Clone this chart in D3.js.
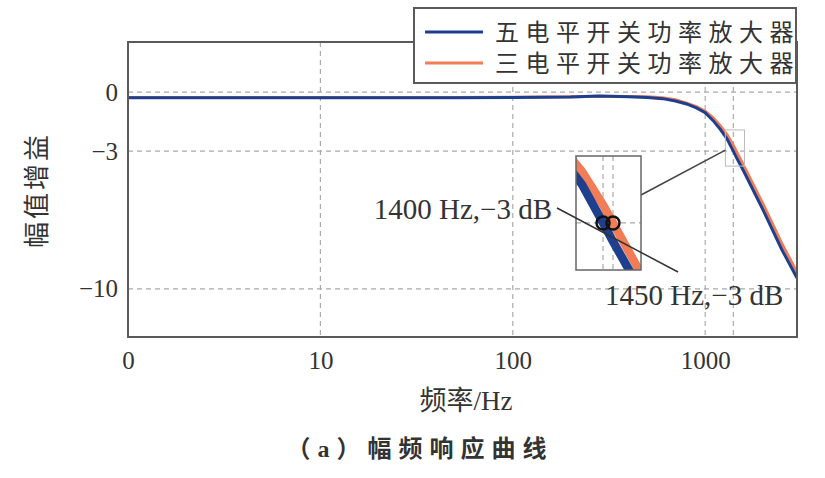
<!DOCTYPE html>
<meta charset="utf-8">
<style>
body { margin: 0; background: #fff; }
svg text { font-family: "Liberation Serif", "Noto Sans CJK SC", serif; fill: #333; }
.grid line { stroke: #aaa; stroke-width: 1.2; stroke-dasharray: 5,4; }
</style>
<svg id="chart" width="825" height="478"></svg>
<script src="https://d3js.org/d3.v7.min.js"></script>
<script>

var freq = [1, 2, 5, 10, 20, 50, 100, 200, 280, 400, 500, 600, 700, 800, 900, 1000, 1100, 1200, 1300, 1400, 1450, 1600, 2000, 2500, 3000];
var fiveLevel = [-0.28, -0.28, -0.28, -0.28, -0.28, -0.28, -0.27, -0.25, -0.19, -0.24, -0.27, -0.33, -0.45, -0.6, -0.8, -1.05, -1.45, -1.9, -2.38, -3.0, -3.3, -4.1, -6.0, -8.0, -9.45];
var threeLevel = [-0.27, -0.27, -0.27, -0.27, -0.27, -0.27, -0.26, -0.23, -0.21, -0.22, -0.24, -0.29, -0.38, -0.56, -0.74, -0.97, -1.3, -1.72, -2.17, -2.71, -3.0, -3.82, -5.7, -7.69, -9.17];

var seriesNames = ["五电平开关功率放大器", "三电平开关功率放大器"];
var seriesColors = ["#1d3f8e", "#f27c56"];

var xTicks = [1, 10, 100, 1000];
var xTickLabels = ["0", "10", "100", "1000"];
var yTicks = [0, -3, -10];
var xGrid = [10, 100, 1000, 1400];

// -3 dB points and the zoomed region
var cutoff = [[1400, -3], [1450, -3]];
var zoomX = [1273, 1600], zoomY = [-3.76, -1.92];

var series = [fiveLevel, threeLevel].map(function(vals) {
  return freq.map(function(f, i) { return [f, vals[i]]; });
});

var svg = d3.select("#chart");

var x = d3.scaleLog().domain([1, 3000]).range([128, 797]);
var y = d3.scaleLinear().domain([-12.45, 2.55]).range([337, 42]);

svg.append("defs").append("clipPath").attr("id", "plotclip")
  .append("rect").attr("x", 128).attr("y", 42).attr("width", 669).attr("height", 295);

// grid
var grid = svg.append("g").attr("class", "grid");
grid.selectAll(".gx").data(xGrid).enter().append("line")
    .attr("x1", function(d) { return x(d); }).attr("x2", function(d) { return x(d); })
    .attr("y1", 42).attr("y2", 337);
grid.selectAll(".gy").data(yTicks).enter().append("line")
    .attr("x1", 128).attr("x2", 797)
    .attr("y1", function(d) { return y(d); }).attr("y2", function(d) { return y(d); });

var line = d3.line()
    .x(function(d) { return x(d[0]); })
    .y(function(d) { return y(d[1]); });

// orange first, blue on top
svg.append("g").attr("clip-path", "url(#plotclip)")
  .selectAll("path").data([series[1], series[0]]).enter().append("path")
    .attr("d", line)
    .attr("fill", "none")
    .attr("stroke", function(d, i) { return i == 0 ? seriesColors[1] : seriesColors[0]; })
    .attr("stroke-width", 3);

svg.append("rect")
    .attr("x", 128).attr("y", 42).attr("width", 669).attr("height", 295)
    .attr("fill", "none").attr("stroke", "#5a5a5a").attr("stroke-width", 2);

// axes
var xAxis = svg.append("g")
    .attr("transform", "translate(0,337)")
    .call(d3.axisBottom(x).tickValues(xTicks).tickSize(0).tickPadding(14)
      .tickFormat(function(d, i) { return xTickLabels[i]; }));
xAxis.select(".domain").remove();
xAxis.selectAll("text").attr("font-size", 25).attr("font-family", null).attr("fill", "#333");

var yAxis = svg.append("g")
    .attr("transform", "translate(128,0)")
    .call(d3.axisLeft(y).tickValues(yTicks).tickSize(0).tickPadding(10)
      .tickFormat(function(d) { return d < 0 ? "\u2212" + (-d) : d; }));
yAxis.select(".domain").remove();
yAxis.selectAll("text").attr("font-size", 25).attr("font-family", null).attr("fill", "#333");

svg.append("text")
    .attr("x", 466).attr("y", 410)
    .attr("text-anchor", "middle")
    .attr("font-size", 27)
    .text("频率/Hz");

svg.append("text")
    .attr("transform", "translate(46,190) rotate(-90)")
    .attr("text-anchor", "middle")
    .attr("font-size", 26)
    .attr("letter-spacing", 3)
    .text("幅值增益");

svg.append("text")
    .attr("x", 420).attr("y", 457)
    .attr("text-anchor", "middle")
    .attr("font-size", 24)
    .attr("font-weight", "bold")
    .attr("letter-spacing", 7)
    .attr("fill", "#444")
    .text("（a）幅频响应曲线");

// small zoom box on main curve
svg.append("rect")
    .attr("x", x(zoomX[0])).attr("y", y(zoomY[1]))
    .attr("width", x(zoomX[1]) - x(zoomX[0]))
    .attr("height", y(zoomY[0]) - y(zoomY[1]))
    .attr("fill", "none").attr("stroke", "#bbb").attr("stroke-width", 1);

// inset
var xi = d3.scaleLog().domain(zoomX).range([576, 641]);
var yi = d3.scaleLinear().domain(zoomY).range([270, 156]);

svg.append("line")
    .attr("x1", 641).attr("y1", 195)
    .attr("x2", x(zoomX[0])).attr("y2", y(-2.95))
    .attr("stroke", "#444").attr("stroke-width", 1.5);

svg.append("clipPath").attr("id", "insetclip")
  .append("rect").attr("x", 576).attr("y", 156).attr("width", 65).attr("height", 114);

var inset = svg.append("g");
inset.append("rect")
    .attr("x", 576).attr("y", 156).attr("width", 65).attr("height", 114)
    .attr("fill", "#fff");

var ig = inset.append("g").attr("class", "grid");
ig.selectAll(".vx").data(cutoff).enter().append("line")
    .attr("x1", function(d) { return xi(d[0]); }).attr("x2", function(d) { return xi(d[0]); })
    .attr("y1", 156).attr("y2", 270);
ig.append("line")
    .attr("x1", 576).attr("x2", 641)
    .attr("y1", yi(-3)).attr("y2", yi(-3));

var iline = d3.line()
    .x(function(d) { return xi(d[0]); })
    .y(function(d) { return yi(d[1]); });

inset.append("g").attr("clip-path", "url(#insetclip)")
  .selectAll("path").data([series[1], series[0]]).enter().append("path")
    .attr("d", iline)
    .attr("fill", "none")
    .attr("stroke", function(d, i) { return i == 0 ? seriesColors[1] : seriesColors[0]; })
    .attr("stroke-width", 8.5);

inset.append("rect")
    .attr("x", 576).attr("y", 156).attr("width", 65).attr("height", 114)
    .attr("fill", "none").attr("stroke", "#666").attr("stroke-width", 1.5);

// pointer line through both -3 dB points
svg.append("line")
    .attr("x1", 557).attr("y1", 208)
    .attr("x2", 678).attr("y2", 272)
    .attr("stroke", "#333").attr("stroke-width", 1.5);

inset.selectAll("circle").data(cutoff).enter().append("circle")
    .attr("cx", function(d) { return xi(d[0]); })
    .attr("cy", function(d) { return yi(d[1]); })
    .attr("r", 6.5)
    .attr("fill", "none")
    .attr("stroke", "#111")
    .attr("stroke-width", 2.5);

svg.append("text")
    .attr("x", 552).attr("y", 219)
    .attr("text-anchor", "end")
    .attr("font-size", 29)
    .text("1400 Hz,\u22123 dB");

svg.append("text")
    .attr("x", 605).attr("y", 305)
    .attr("font-size", 29)
    .text("1450 Hz,\u22123 dB");

// legend
var legend = svg.append("g");
legend.append("rect")
    .attr("x", 414).attr("y", 8).attr("width", 382).attr("height", 75)
    .attr("fill", "#fff").attr("stroke", "#5a5a5a").attr("stroke-width", 2);

var item = legend.selectAll(".item").data(seriesNames).enter().append("g")
    .attr("transform", function(d, i) { return "translate(0," + (32 + i * 31) + ")"; });

item.append("line")
    .attr("x1", 425).attr("x2", 483)
    .attr("stroke", function(d, i) { return seriesColors[i]; })
    .attr("stroke-width", 3);

item.append("text")
    .attr("x", 495).attr("y", 9)
    .attr("font-size", 24)
    .attr("letter-spacing", 6.5)
    .text(function(d) { return d; });

</script>
